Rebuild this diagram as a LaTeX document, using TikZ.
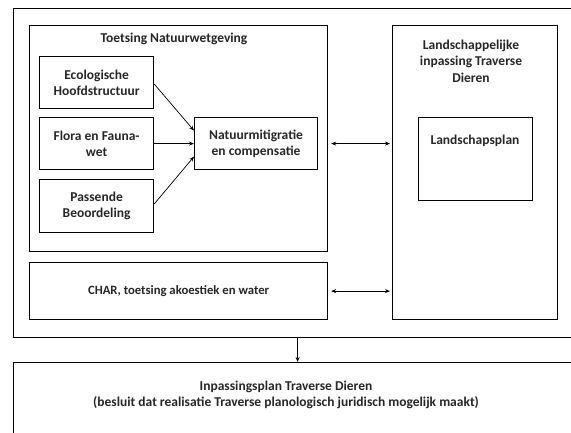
\documentclass[tikz,border=0pt]{standalone}
\usepackage{fontspec}
\setmainfont{Carlito}
\usetikzlibrary{arrows.meta,calc}
\begin{document}
\begin{tikzpicture}[x=1pt,y=-1pt,
  box/.style={draw, line width=1.2pt, anchor=north west, inner sep=0pt},
  txt/.style={font=\fontsize{13.5}{16.5}\selectfont\bfseries, align=center, text=black!85},
  smalltxt/.style={txt, font=\fontsize{12.7}{16}\selectfont\bfseries},
  arr/.style={line width=0.7pt, -{Stealth[length=5pt,width=4pt]}},
  darr/.style={line width=0.7pt, {Stealth[length=5pt,width=4pt]}-{Stealth[length=5pt,width=4pt]}}]
\useasboundingbox (0,0) rectangle (571,432);
\clip (0,0) rectangle (571,432);
\node[box, minimum width=568pt, minimum height=329pt] (outer) at (13,8) {};
\node[box, minimum width=298pt, minimum height=226pt] (toets) at (29,25) {};
\node[txt] (toetstitle) at (174,39) {Toetsing Natuurwetgeving};
\node[box, minimum width=114pt, minimum height=52pt] (eco) at (39,56) {};
\node[txt] (ecot) at (eco.center) {Ecologische\\Hoofdstructuur};
\node[box, minimum width=114pt, minimum height=52pt] (flora) at (39,117) {};
\node[txt] (florat) at (flora.center) {Flora en Fauna-\\wet};
\node[box, minimum width=114pt, minimum height=53pt] (pass) at (39,179) {};
\node[txt] (passt) at (pass.center) {Passende\\Beoordeling};
\node[box, minimum width=123pt, minimum height=52pt] (nat) at (194,117) {};
\node[txt] (natt) at (nat.center) {Natuurmitigratie\\en compensatie};
\node[box, minimum width=165pt, minimum height=294pt] (land) at (392,25) {};
\node[txt] (landt) at (471,61) {Landschappelijke\\inpassing Traverse\\Dieren};
\node[box, minimum width=114pt, minimum height=83pt] (plan) at (418,117) {};
\node[txt] (plant) at (475,141) {Landschapsplan};
\node[box, minimum width=298pt, minimum height=57pt] (char) at (29,262) {};
\node[smalltxt] (chart) at (char.center) {CHAR, toetsing akoestiek en water};
\node[box, minimum width=568pt, minimum height=90pt] (bottom) at (13,362) {};
\node[txt] (bottomt) at (286,395) {Inpassingsplan Traverse Dieren\\(besluit dat realisatie Traverse planologisch juridisch mogelijk maakt)};
\draw[arr] (eco.east |- 0,84) -- ($(nat.west)+(0,-13)$);
\draw[arr] (flora.east) -- (nat.west);
\draw[arr] (pass.east |- 0,204) -- ($(nat.west)+(0,13)$);
\draw[darr, shorten <=3pt, shorten >=2pt] (toets.east |- nat.west) -- (land.west |- nat.west);
\draw[darr, shorten <=3pt, shorten >=2pt] (char.east) -- (land.west |- char.east);
\draw[arr] (outer.south) -- (bottom.north);
\end{tikzpicture}
\end{document}
